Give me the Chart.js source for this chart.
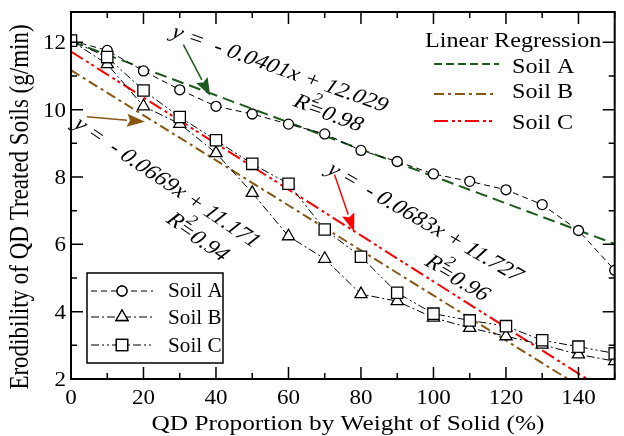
<!DOCTYPE html>
<html>
<head>
<meta charset="utf-8">
<script src="https://cdn.jsdelivr.net/npm/chart.js@4.4.1/dist/chart.umd.min.js"></script>
<style>
  html, body { margin: 0; padding: 0; background: #fff; }
  #wrap { width: 624px; height: 436px; }
</style>
</head>
<body>
<div id="wrap"><canvas id="erosionChart" width="624" height="436"></canvas></div>
<script>
// QD proportion (%)
const proportions = [0, 10, 20, 30, 40, 50, 60, 70, 80, 90, 100, 110, 120, 130, 140, 150];

// measured erodibility (g/min)
const soilA = [12.05, 11.76, 11.15, 10.59, 10.10, 9.87, 9.57, 9.28, 8.79, 8.46, 8.09, 7.87, 7.62, 7.18, 6.41, 5.23];
const soilB = [12.05, 11.35, 10.10, 9.58, 8.71, 7.53, 6.24, 5.57, 4.52, 4.31, 3.82, 3.52, 3.27, 3.02, 2.73, 2.53];
const soilC = [12.05, 11.56, 10.57, 9.78, 9.09, 8.39, 7.80, 6.44, 5.63, 4.56, 3.94, 3.74, 3.57, 3.15, 2.96, 2.76];

// regression line end points
const regX = [0, 150];
const regA = [12.029, 6.014];
const regB = [11.171, 1.136];
const regC = [11.727, 1.482];

const xTicks = [0, 20, 40, 60, 80, 100, 120, 140];
const yTicks = [2, 4, 6, 8, 10, 12];

const serif = "'Liberation Serif', 'Times New Roman', serif";
const SX = 1.15;   // the original figure is a bit wider than tall

function pts(xs, ys) {
    return xs.map((x, i) => ({ x: x, y: ys[i] }));
}

// text drawn with the horizontal stretch; deg is the angle seen on screen
function txt(ctx, s, x, y, o) {
    o = o || {};
    const deg = o.deg || 0;
    const sx = o.sx || SX;
    const th = deg * Math.PI / 180;
    const phi = Math.atan2(Math.sin(th), Math.cos(th) / sx);
    ctx.save();
    ctx.translate(x, y);
    ctx.scale(sx, 1);
    ctx.rotate(phi);
    ctx.font = (o.italic ? 'italic ' : '') + (o.size || 20) + 'px ' + serif;
    ctx.fillStyle = '#000';
    ctx.textAlign = o.align || 'left';
    ctx.textBaseline = o.baseline || 'alphabetic';
    ctx.fillText(s, 0, 0);
    ctx.restore();
}

const dataStyle = {
    borderColor: '#000',
    borderWidth: 1,
    pointBackgroundColor: '#fff',
    pointBorderColor: '#000',
    pointBorderWidth: 1.3,
    tension: 0,
    fill: false
};

// frame, inward ticks, tick labels and axis titles
const framePlugin = {
    id: 'frame',
    afterDraw(chart) {
        const { ctx, chartArea: a, scales: { x, y } } = chart;
        ctx.save();
        ctx.strokeStyle = '#000';
        ctx.lineWidth = 2;
        ctx.strokeRect(a.left, a.top, a.right - a.left, a.bottom - a.top);
        ctx.lineWidth = 1.5;
        ctx.beginPath();
        for (let v = 0; v <= 150; v += 10) {
            const px = x.getPixelForValue(v);
            const len = v % 20 === 0 ? 12 : 6;
            ctx.moveTo(px, a.bottom); ctx.lineTo(px, a.bottom - len);
            ctx.moveTo(px, a.top); ctx.lineTo(px, a.top + len);
        }
        for (let v = 2; v <= 12; v += 1) {
            const py = y.getPixelForValue(v);
            const len = v % 2 === 0 ? 12 : 6;
            ctx.moveTo(a.left, py); ctx.lineTo(a.left + len, py);
            ctx.moveTo(a.right, py); ctx.lineTo(a.right - len, py);
        }
        ctx.stroke();
        ctx.restore();

        xTicks.forEach(v => txt(ctx, String(v), x.getPixelForValue(v), a.bottom + 25, { size: 20, align: 'center' }));
        yTicks.forEach(v => txt(ctx, String(v), a.left - 5, y.getPixelForValue(v) + 7, { size: 20, align: 'right' }));
        txt(ctx, 'QD Proportion by Weight of Solid (%)', 348, 430, { size: 22, align: 'center' });
        txt(ctx, 'Erodibility of QD Treated Soils (g/min)', 28, 207, { size: 23, align: 'center', deg: -90 });
    }
};

function arrow(ctx, x1, y1, x2, y2, color) {
    const ang = Math.atan2(y2 - y1, x2 - x1);
    const hl = 18, hw = 6.5;
    ctx.save();
    ctx.strokeStyle = color;
    ctx.fillStyle = color;
    ctx.lineWidth = 1.5;
    ctx.beginPath();
    ctx.moveTo(x1, y1);
    ctx.lineTo(x2 - hl * Math.cos(ang), y2 - hl * Math.sin(ang));
    ctx.stroke();
    ctx.translate(x2, y2);
    ctx.rotate(ang);
    ctx.beginPath();
    ctx.moveTo(0, 0);
    ctx.lineTo(-hl, -hw);
    ctx.lineTo(-hl + 3, 0);
    ctx.lineTo(-hl, hw);
    ctx.closePath();
    ctx.fill();
    ctx.restore();
}

function rSquared(ctx, value, cx, cy, deg) {
    const th = deg * Math.PI / 180;
    const phi = Math.atan2(Math.sin(th), Math.cos(th) / SX);
    ctx.save();
    ctx.translate(cx, cy);
    ctx.scale(SX, 1);
    ctx.rotate(phi);
    ctx.fillStyle = '#000';
    ctx.textBaseline = 'middle';
    ctx.font = 'italic 21px ' + serif;
    const wR = ctx.measureText('R').width;
    const wV = ctx.measureText('=' + value).width;
    const start = -(wR + wV) / 2;
    ctx.fillText('R', start, 0);
    ctx.fillText('=' + value, start + wR, 2);
    ctx.font = 'italic 15px ' + serif;
    ctx.fillText('2', start + wR + 1, -9);
    ctx.restore();
}

const notePlugin = {
    id: 'notes',
    afterDatasetsDraw(chart) {
        const { ctx, scales: { x, y } } = chart;
        const P = (vx, vy) => [x.getPixelForValue(vx), y.getPixelForValue(vy)];
        const eq = { size: 21, italic: true, align: 'center', baseline: 'middle' };

        let s = P(31.0, 11.93), e = P(38.4, 10.41);
        arrow(ctx, s[0], s[1], e[0], e[1], '#1d5a1d');
        s = P(4.4, 9.79); e = P(20.4, 9.64);
        arrow(ctx, s[0], s[1], e[0], e[1], '#8a5614');
        s = P(72.7, 8.07); e = P(78.1, 6.38);
        arrow(ctx, s[0], s[1], e[0], e[1], '#ff0000');

        let c = P(57.6, 11.2);
        txt(ctx, 'y =  - 0.0401x + 12.029', c[0], c[1], Object.assign({ deg: 19.5 }, eq));
        c = P(71.1, 9.91);
        rSquared(ctx, '0.98', c[0], c[1], 19.5);

        c = P(26.4, 7.82);
        txt(ctx, 'y =  - 0.0669x + 11.171', c[0], c[1], Object.assign({ deg: 34 }, eq));
        c = P(35.1, 6.23);
        rSquared(ctx, '0.94', c[0], c[1], 34);

        c = P(97.6, 6.64);
        txt(ctx, 'y =  - 0.0683x + 11.727', c[0], c[1], Object.assign({ deg: 30 }, eq));
        c = P(106.7, 5.01);
        rSquared(ctx, '0.96', c[0], c[1], 30);
    }
};

// two hand drawn legends: markers (bottom left) and regression lines (top right)
const legendPlugin = {
    id: 'legends',
    afterDraw(chart) {
        const ctx = chart.ctx;
        ctx.save();
        ctx.fillStyle = '#fff';
        ctx.fillRect(87, 273, 136, 90);
        ctx.strokeStyle = '#000';
        ctx.lineWidth = 1.5;
        ctx.strokeRect(87, 273, 136, 90);

        const rows = [
            { label: 'Soil A', y: 291, ty: 297, dash: [6, 4], style: 'circle', r: 5 },
            { label: 'Soil B', y: 317, ty: 324, dash: [8, 3, 2, 3], style: 'triangle', r: 7 },
            { label: 'Soil C', y: 345, ty: 352, dash: [8, 3, 2, 3, 2, 3], style: 'rect', r: 8 }
        ];
        rows.forEach(row => {
            ctx.strokeStyle = '#000';
            ctx.lineWidth = 1;
            ctx.setLineDash(row.dash);
            ctx.beginPath();
            ctx.moveTo(91, row.y); ctx.lineTo(153, row.y);
            ctx.stroke();
            ctx.setLineDash([]);
            ctx.fillStyle = '#fff';
            ctx.lineWidth = 1.3;
            Chart.helpers.drawPoint(ctx, { pointStyle: row.style, radius: row.r, borderWidth: 1.3 }, 122, row.y);
            ctx.fill();
            ctx.stroke();
            txt(ctx, row.label, 168, row.ty, { size: 20, sx: 1.06 });
        });

        txt(ctx, 'Linear Regression', 425, 46.5, { size: 21 });
        const reg = [
            { label: 'Soil A', y: 64, ty: 72.5, x2: 499, color: '#1d5a1d', dash: [8, 4] },
            { label: 'Soil B', y: 94, ty: 97.5, x2: 497, color: '#8a5614', dash: [10, 4, 3, 4] },
            { label: 'Soil C', y: 121, ty: 128.5, x2: 493, color: '#ff0000', dash: [14, 4, 3, 3, 3, 4] }
        ];
        reg.forEach(row => {
            ctx.strokeStyle = row.color;
            ctx.lineWidth = 2;
            ctx.setLineDash(row.dash);
            ctx.beginPath();
            ctx.moveTo(434, row.y); ctx.lineTo(row.x2, row.y);
            ctx.stroke();
            ctx.setLineDash([]);
            txt(ctx, row.label, 512, row.ty, { size: 21 });
        });
        ctx.restore();
    }
};

new Chart(document.getElementById('erosionChart'), {
    type: 'line',
    data: {
        datasets: [
            Object.assign({}, dataStyle, {
                label: 'Soil C', data: pts(proportions, soilC), borderDash: [8, 3, 2, 3, 2, 3],
                pointStyle: 'rect', pointRadius: 8, order: 0
            }),
            Object.assign({}, dataStyle, {
                label: 'Soil B', data: pts(proportions, soilB), borderDash: [8, 3, 2, 3],
                pointStyle: 'triangle', pointRadius: 7, order: 1
            }),
            Object.assign({}, dataStyle, {
                label: 'Soil A', data: pts(proportions, soilA), borderDash: [6, 4],
                pointStyle: 'circle', pointRadius: 5, order: 2
            }),
            {
                label: 'Fit A', data: pts(regX, regA), borderColor: '#1d5a1d', borderWidth: 2,
                borderDash: [12, 6], pointRadius: 0, order: 10
            },
            {
                label: 'Fit B', data: pts(regX, regB), borderColor: '#8a5614', borderWidth: 2,
                borderDash: [10, 4, 3, 4], pointRadius: 0, order: 10
            },
            {
                label: 'Fit C', data: pts(regX, regC), borderColor: '#ff0000', borderWidth: 2,
                borderDash: [14, 4, 3, 3, 3, 4], pointRadius: 0, order: 10
            }
        ]
    },
    options: {
        responsive: false,
        animation: false,
        layout: { padding: { left: 0, right: 2, top: 12, bottom: 0 } },
        plugins: { legend: { display: false }, tooltip: { enabled: false } },
        scales: {
            x: {
                type: 'linear', min: 0, max: 150,
                grid: { display: false }, border: { display: false },
                afterFit: s => { s.height = 57; },
                ticks: { display: false }
            },
            y: {
                type: 'linear', min: 2, max: 12.9,
                grid: { display: false }, border: { display: false },
                afterFit: s => { s.width = 71; },
                ticks: { display: false }
            }
        }
    },
    plugins: [framePlugin, notePlugin, legendPlugin]
});
</script>
</body>
</html>
